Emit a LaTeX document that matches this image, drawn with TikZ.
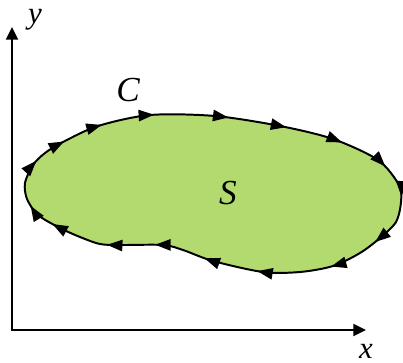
\documentclass[tikz,border=0pt]{standalone}
\usepackage{fontspec}
\setmainfont{Liberation Serif}
\usetikzlibrary{arrows.meta,decorations.markings}
\definecolor{leafgreen}{RGB}{179,218,110}
\tikzset{
	tick at/.style={postaction={decorate,decoration={markings,
		mark=at position #1 with {\arrow{Triangle[length=11pt,width=8pt]}}}}},
	axis/.style={line width=1.4pt,{Triangle[length=9pt,width=8.5pt]}-{Triangle[length=9pt,width=8.5pt]}},
	letter/.style={font=\fontsize{22}{26}\selectfont\itshape}
}
\begin{document}
\begin{tikzpicture}[x=0.025cm,y=-0.025cm]
	\useasboundingbox (0,0) rectangle (403,363);
	% axes
	\coordinate (origin) at (12,330);
	\coordinate (ytip) at (12,27);
	\coordinate (xtip) at (366,330);
	\draw[axis] (ytip) -- (origin) -- (xtip);
	\node[letter] (ylab) at (35,20) {y};
	\node[letter] (xlab) at (366,351) {x};
	% region S with boundary C
	\draw[line width=1.4pt, fill=leafgreen,
		tick at/.list={0.006,0.045,0.092,0.153,0.238,0.305,0.371,0.428,0.468,0.531,0.589,0.674,0.736,0.795,0.850,0.917,0.950}]
		plot[smooth cycle, tension=0.5] coordinates {
			(25,183) (33,165) (45,153) (63,142) (98,126) (150,115) (215,116)
			(280,126) (333,139) (378,160) (399,185) (401,202) (396,222)
			(380,238) (360,253) (333,266) (300,272) (263,272) (213,261)
			(183,250) (163,245) (120,245) (100,244) (80,237) (60,228)
			(38,215) (27,199)};
	\node[letter, font=\fontsize{25}{30}\selectfont\itshape] (clab) at (128,90) {C};
	\node[letter, font=\fontsize{25}{30}\selectfont\itshape] (slab) at (228,193) {S};
\end{tikzpicture}
\end{document}
